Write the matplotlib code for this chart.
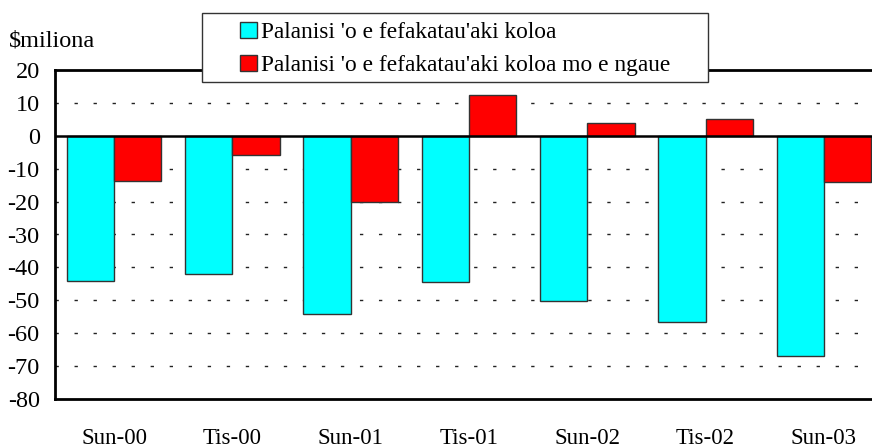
import matplotlib
matplotlib.use("Agg")
import matplotlib.pyplot as plt
import numpy as np
from matplotlib.patches import Patch, Rectangle

categories = ["Sun-00", "Tis-00", "Sun-01", "Tis-01", "Sun-02", "Tis-02", "Sun-03"]
goods = [-44.0, -42.1, -54.3, -44.3, -50.3, -56.6, -66.9]
goods_services = [-13.6, -5.7, -20.2, 12.3, 3.8, 5.2, -14.1]
series_names = ["Palanisi 'o e fefakatau'aki koloa",
                "Palanisi 'o e fefakatau'aki koloa mo e ngaue"]
yticks = [20, 10, 0, -10, -20, -30, -40, -50, -60, -70, -80]

plt.rcParams['font.family'] = ['Liberation Serif', 'DejaVu Serif']

W, H = 872, 448
fig = plt.figure(figsize=(W/100, H/100), dpi=100)
ax = fig.add_axes([55/W, 1-399/H, 1-55/W, (399-70)/H])

x = np.arange(len(categories))
w = 0.4
ax.bar(x - w/2, goods, width=w, color="#00FFFF", edgecolor="#333333", linewidth=1, zorder=2)
ax.bar(x + w/2, goods_services, width=w, color="#FF0000", edgecolor="#333333", linewidth=1, zorder=2)

ax.set_ylim(-80, 20)
ax.set_xlim(-0.5, 6.5 - 11/118.4)
ax.set_yticks(yticks)
ax.set_yticklabels([str(v) for v in yticks], fontsize=17.5)
ax.set_xticks(x)
ax.set_xticklabels(categories, fontsize=16.5)
ax.tick_params(axis='both', length=0)
ax.tick_params(axis='y', pad=11)
ax.tick_params(axis='x', pad=21)

for v in yticks:
    if v not in (20, 0, -80):
        ax.axhline(v, color="#222222", lw=1, dashes=(2.4, 11.3), zorder=1)
ax.axhline(0, color="black", lw=1.8, zorder=3)

for s in ["left", "top", "bottom"]:
    ax.spines[s].set_linewidth(2)
    ax.spines[s].set_color("black")
ax.spines["right"].set_visible(False)

fig.text(9/W, 1-41/H, "$miliona", fontsize=17.5, ha="left", va="center")

# legend box
box = Rectangle((201.5/W, 1-82/H), (708-201.5)/W, (82-13)/H, transform=fig.transFigure,
                facecolor="white", edgecolor="#333333", linewidth=1, zorder=10)
fig.add_artist(box)

handles = [Patch(facecolor="#00FFFF", edgecolor="#333333"),
           Patch(facecolor="#FF0000", edgecolor="#333333")]
leg = fig.legend(handles, series_names, loc="center left",
                 bbox_to_anchor=(240/W, 1-49/H), fontsize=16.8,
                 frameon=False, borderpad=0,
                 handlelength=0.72, handleheight=0.72, handletextpad=0.2,
                 labelspacing=0.5, borderaxespad=0)
leg.set_zorder(11)

fig.savefig("out.png", dpi=100)
